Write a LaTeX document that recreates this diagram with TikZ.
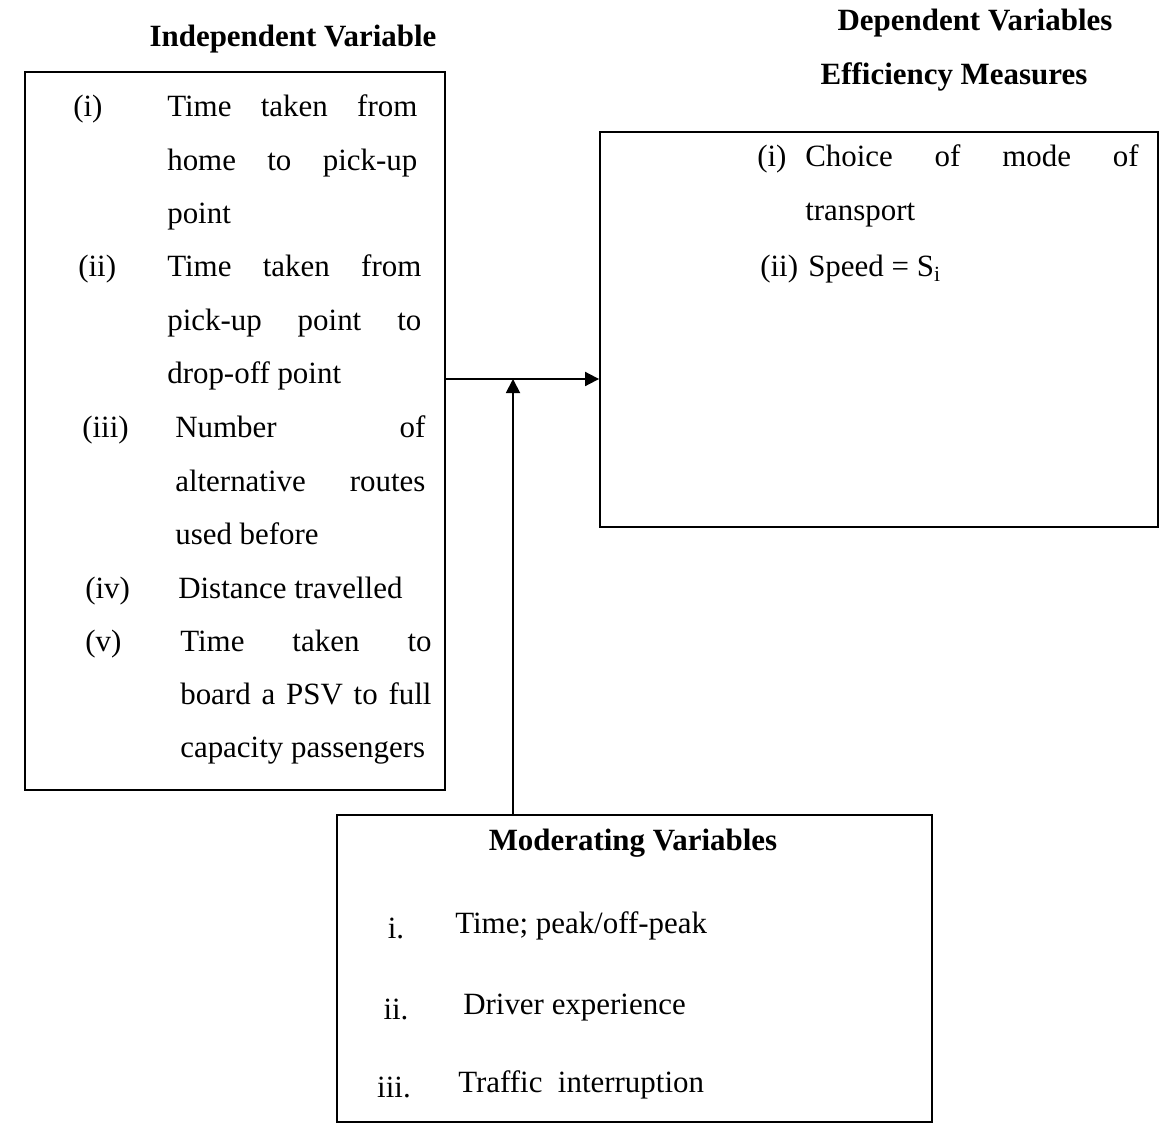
\documentclass[tikz,border=0pt]{standalone}
\usepackage{fontspec}
\setmainfont{Liberation Serif}
\usetikzlibrary{arrows.meta,fit}
\hyphenpenalty=10000
\exhyphenpenalty=10000

\begin{document}
\begin{tikzpicture}[x=0.025cm, y=-0.025cm,
		every node/.style={inner sep=0pt, font=\fontsize{22}{38}\selectfont},
		heading/.style={anchor=base, font=\fontsize{22}{38}\selectfont\bfseries},
		frame/.style={draw, line width=1.3pt, inner sep=0pt},
		num/.style={anchor=base west},
		item/.style={anchor=base west, align=justify},
		link/.style={line width=1.3pt, -{Triangle[length=3.5mm, width=3.5mm]}}]
	\useasboundingbox (0,0) rectangle (1160,1129);
	\node[heading] (indep) at (293,47) {Independent Variable};
	\node[heading] (dep) at (975,31) {Dependent Variables};
	\node[heading] (eff) at (954,85) {Efficiency Measures};
	\node[frame, fit={(25,72) (445,790)}] (lbox) {};
	\node[frame, fit={(600,132) (1158,527)}] (rbox) {};
	\node[frame, fit={(337,815) (932,1122)}] (mbox) {};
	\node[num] (n1) at (73,117) {(i)};
	\node[item, text width=6.25cm] (t1) at (167,117) {Time taken from\linebreak home to pick-up\linebreak point};
	\node[num] (n2) at (78,277) {(ii)};
	\node[item, text width=6.35cm] (t2) at (167,277) {Time taken from\linebreak pick-up point to\linebreak drop-off point};
	\node[num] (n3) at (82,438) {(iii)};
	\node[item, text width=6.25cm] (t3) at (175,438) {Number of\linebreak alternative routes\linebreak used before};
	\node[num] (n4) at (85,598) {(iv)};
	\node[num] (t4) at (178,598) {Distance travelled};
	\node[num] (n5) at (85,651) {(v)};
	\node[item, text width=6.28cm] (t5) at (180,651) {Time taken to\linebreak board a PSV to full\linebreak capacity passengers};
	\node[num] (d1) at (757,167) {(i)};
	\node[item, text width=8.33cm] (c1) at (805,167) {Choice of mode of\linebreak transport};
	\node[num] (d2) at (760,277) {(ii)};
	\node[num] (c2) at (808,277) {Speed = S\textsubscript{i}};
	\node[heading] (mod) at (633,850) {Moderating Variables};
	\node[anchor=base] (m1) at (396,938) {i.};
	\node[num] (v1) at (455,933) {Time; peak/off-peak};
	\node[anchor=base] (m2) at (396,1019) {ii.};
	\node[num] (v2) at (463,1014) {Driver experience};
	\node[anchor=base] (m3) at (394,1097) {iii.};
	\node[num] (v3) at (458,1092) {Traffic\ \ interruption};
	\coordinate (meet) at (513,379);
	\draw[link] (lbox.east |- meet) -- (rbox.west |- meet);
	\draw[link] (mbox.north -| meet) -- (meet);
\end{tikzpicture}
\end{document}
